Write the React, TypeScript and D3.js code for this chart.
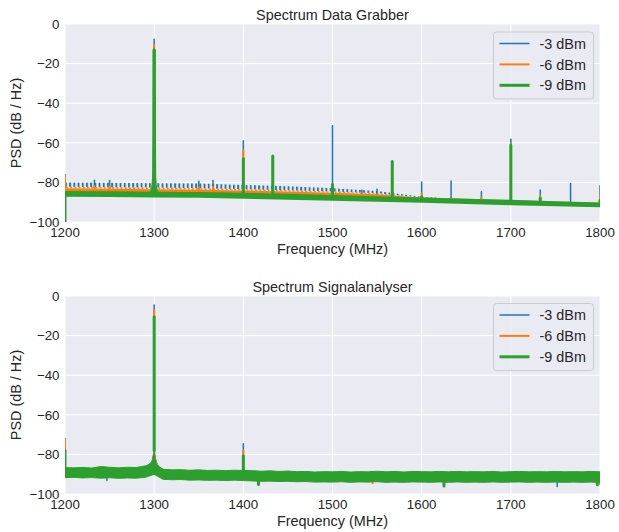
import React from 'react';
import * as d3 from 'd3';

// ---------- series ----------
const SERIES = ['-3 dBm', '-6 dBm', '-9 dBm'];
const COLORS = ['#1f77b4', '#ff7f0e', '#2ca02c'];
const LINE_WIDTHS = [1.5, 2, 3];

const X_TICKS = [1200, 1300, 1400, 1500, 1600, 1700, 1800];
const Y_TICKS = [0, -20, -40, -60, -80, -100];

// ---------- Spectrum Data Grabber (top) ----------
const GRAB_FREQ = [1200, 1250, 1300, 1350, 1400, 1450, 1500, 1550, 1600, 1650, 1700, 1750, 1800];
const GRAB_ORANGE_TOP = [-83.0, -83.2, -83.4, -83.7, -84.1, -84.6, -85.2, -86.0, -87.6, -88.3, -89.0, -89.7, -90.3];
const GRAB_ORANGE_BOTTOM = [-84.6, -84.8, -85.0, -85.3, -85.7, -86.2, -86.8, -87.5, -88.6, -89.3, -90.0, -90.6, -91.3];
const GRAB_GREEN_TOP = [-84.3, -84.5, -84.7, -84.8, -85.2, -85.7, -86.4, -87.0, -87.6, -88.2, -88.8, -89.5, -90.2];
const GRAB_GREEN_BOTTOM = [-87.2, -87.4, -87.6, -87.8, -88.3, -88.8, -89.3, -89.8, -90.3, -90.9, -91.5, -92.0, -92.6];

// periodic spur comb (blue / orange) tops
const GRAB_COMB_FREQ = [1200, 1250, 1300, 1350, 1400, 1450, 1500, 1550, 1600, 1640];
const GRAB_BLUE_COMB = [-80.0, -80.2, -80.4, -80.6, -81.3, -82.0, -82.9, -84.3, -87.3, -88.4];
const GRAB_ORANGE_COMB = [-82.2, -82.4, -82.6, -82.9, -83.4, -84.0, -84.6, -85.5, -87.6, -88.6];

// discrete spurs
const GRAB_SPUR_FREQ = [1200, 1233, 1250, 1300, 1350, 1366, 1400, 1433, 1500, 1533, 1550, 1567, 1600, 1633, 1667, 1700, 1733, 1767, 1800];
const GRAB_SPUR_BASE = [-86, -86, -86, -86, -86.5, -86.5, -87, -87.5, -88, -88.5, -88.5, -88.7, -89, -89.5, -90, -90.3, -90.7, -91, -91.4];
const GRAB_SPUR_BLUE = [-76, -78.9, -79, -7.7, -79.4, -79, -59, -67.5, -51.4, -83.8, -83.5, -70, -79.8, -79.3, -84.7, -58.2, -83.8, -80.5, -81.7];
const GRAB_SPUR_ORANGE = [-77, -82, -81.8, -10.6, -82.5, -82.3, -63.6, -67.5, -82.5, null, null, -70, -85.5, null, -87.5, -60.5, -87, null, -86.9];
const GRAB_SPUR_GREEN = [null, null, null, -13.1, null, null, -68, -66.7, -81, null, null, -69.5, -87.2, null, null, -61.1, -88, null, -89];
const GRAB_GREEN_DIP_FREQ = [1200];
const GRAB_GREEN_DIP = [-100];

// skirt of the main carrier (offset in MHz from 1300)
const GRAB_SKIRT_OFFSET = [-5, -3, -2, -1.2, -0.6, -0.25, 0, 0.25, 0.6, 1.2, 2, 3, 5];
const GRAB_SKIRT_GREEN = [-86, -84.8, -83.5, -81, -77, -55, -13.1, -55, -77, -81, -83.5, -84.8, -86];

// ---------- Spectrum Signalanalyser (bottom) ----------
const SA_FREQ = [
  1200, 1210, 1220, 1230, 1240, 1250, 1260, 1270, 1280, 1290,
  1300, 1310, 1320, 1330, 1340, 1350, 1360, 1370, 1380, 1390,
  1400, 1410, 1420, 1430, 1440, 1450, 1460, 1470, 1480, 1490,
  1500, 1510, 1520, 1530, 1540, 1550, 1560, 1570, 1580, 1590,
  1600, 1610, 1620, 1630, 1640, 1650, 1660, 1670, 1680, 1690,
  1700, 1710, 1720, 1730, 1740, 1750, 1760, 1770, 1780, 1790, 1800,
];
const SA_GREEN_TOP = [
  -86.7, -86.8, -86.6, -86.9, -86.1, -86.5, -86.8, -86.5, -86.6, -85.8,
  -84.5, -87.5, -87.8, -87.7, -88.0, -87.8, -88.1, -88.0, -88.2, -88.0,
  -88.1, -88.2, -88.5, -88.3, -88.6, -88.4, -88.7, -88.6, -88.9, -88.7,
  -88.8, -88.6, -88.9, -88.7, -88.8, -88.5, -88.8, -88.6, -88.9, -88.6,
  -88.7, -88.8, -88.6, -88.8, -88.6, -88.8, -88.7, -88.8, -88.6, -88.9,
  -88.7, -88.6, -88.8, -88.7, -88.8, -88.6, -88.8, -88.7, -88.8, -88.6, -88.8,
];
const SA_GREEN_BOTTOM = [
  -91.7, -91.6, -91.9, -91.7, -92.0, -91.8, -92.1, -91.9, -92.0, -91.6,
  -90.0, -92.6, -92.8, -92.7, -93.0, -92.9, -93.1, -93.0, -93.2, -93.0,
  -93.2, -93.4, -93.6, -93.5, -93.7, -93.6, -93.8, -93.7, -94.0, -93.9,
  -94.0, -93.8, -94.1, -93.9, -94.0, -93.8, -94.1, -94.0, -94.1, -93.9,
  -94.0, -94.1, -93.9, -94.1, -93.9, -94.1, -94.0, -94.1, -93.9, -94.1,
  -94.0, -93.9, -94.1, -94.0, -94.1, -94.0, -94.1, -94.0, -94.1, -94.0, -94.2,
];
const SA_SPUR_FREQ = [1200, 1300, 1400];
const SA_SPUR_BASE = [-89, -78, -90.5];
const SA_SPUR_BLUE = [-72, -4.6, -74.6];
const SA_SPUR_ORANGE = [-72.5, -7.1, -78];
const SA_SPUR_GREEN = [-78, -10.5, -80.7];

const SA_SKIRT_OFFSET = [-14, -10, -6, -3, -1.5, -0.6, 0, 0.6, 1.5, 3, 6, 10, 14];
const SA_SKIRT_BLUE = [-87, -86, -84.8, -83.5, -80, -76.5, -74.6, -76.5, -80.5, -84, -86.5, -87.5, -88];
const SA_SKIRT_ORANGE = [-87, -86.3, -85.3, -84, -81, -77.5, -76, -77.5, -81.5, -84.5, -86.8, -87.7, -88.2];
const SA_SKIRT_GREEN = [-87, -86.5, -85.5, -84.2, -81.5, -79, -78, -79, -82, -85, -87, -88, -88.5];
const SA_SKIRT_FLOOR = -90;

const SA_DIP_BASE = -92;
const SA_BLUE_DIP_FREQ = [1247, 1752];
const SA_BLUE_DIP = [-93.2, -96.2];
const SA_ORANGE_DIP_FREQ = [1545, 1800];
const SA_ORANGE_DIP = [-94.6, -95];
const SA_GREEN_DIP_FREQ = [1417, 1625, 1797];
const SA_GREEN_DIP = [-95.2, -96, -95.3];

// ---------- layout ----------
const W = 619;
const H = 532;
const X0 = 65;
const X1 = 600;
const FONT = "'Liberation Sans', Arial, sans-serif";
const TEXT = '#262626';
const BG = '#EAEAF2';

type Pt = { f: number; hi: number; lo: number };

function bandPts(freq: number[], hi: number[], lo: number[]): Pt[] {
  return freq.map((f, i) => ({ f, hi: hi[i], lo: lo[i] }));
}

function Panel(props: {
  top: number;
  bottom: number;
  title: string;
  id: string;
  children: (x: d3.ScaleLinear<number, number>, y: d3.ScaleLinear<number, number>) => React.ReactNode;
  legendY: number;
}) {
  const { top, bottom, title, id } = props;
  const x = d3.scaleLinear().domain([1200, 1800]).range([X0, X1]);
  const y = d3.scaleLinear().domain([-100, 0]).range([bottom, top]);
  return (
    <g>
      <rect x={X0} y={top} width={X1 - X0} height={bottom - top} fill={BG} />
      <clipPath id={`clip-${id}`}>
        <rect x={X0} y={top} width={X1 - X0} height={bottom - top} />
      </clipPath>
      {X_TICKS.map((t) => (
        <line key={'gx' + t} x1={x(t)} x2={x(t)} y1={top} y2={bottom} stroke="#fff" strokeWidth={1} />
      ))}
      {Y_TICKS.map((t) => (
        <line key={'gy' + t} x1={X0} x2={X1} y1={y(t)} y2={y(t)} stroke="#fff" strokeWidth={1} />
      ))}
      <g clipPath={`url(#clip-${id})`}>{props.children(x, y)}</g>
      {Y_TICKS.map((t) => (
        <text key={'ty' + t} x={59.5} y={y(t)} dy="0.36em" textAnchor="end" fontSize={13.3} fill={TEXT} fontFamily={FONT}>
          {t < 0 ? '\u2212' + Math.abs(t) : String(t)}
        </text>
      ))}
      {X_TICKS.map((t) => (
        <text key={'tx' + t} x={x(t)} y={bottom + 15.3} textAnchor="middle" fontSize={13.3} fill={TEXT} fontFamily={FONT}>
          {t}
        </text>
      ))}
      <text x={(X0 + X1) / 2} y={top - 4.3} textAnchor="middle" fontSize={14.4} fill={TEXT} fontFamily={FONT}>
        {title}
      </text>
      <text x={(X0 + X1) / 2} y={bottom + 32} textAnchor="middle" fontSize={14.4} fill={TEXT} fontFamily={FONT}>
        Frequency (MHz)
      </text>
      <text
        transform={`translate(21,${(top + bottom) / 2}) rotate(-90)`}
        textAnchor="middle"
        fontSize={14.4}
        fill={TEXT}
        fontFamily={FONT}
      >
        PSD (dB / Hz)
      </text>
      <Legend y={props.legendY} />
    </g>
  );
}

function Legend({ y }: { y: number }) {
  const bx = 493.5;
  const bw = 100;
  const bh = 67;
  return (
    <g>
      <rect x={bx} y={y} width={bw} height={bh} rx={3} fill={BG} fillOpacity={0.8} stroke="#cccccc" strokeWidth={1} />
      {SERIES.map((s, i) => {
        const yy = y + 11.5 + i * 20.9;
        return (
          <g key={s}>
            <line x1={bx + 6} x2={bx + 36} y1={yy} y2={yy} stroke={COLORS[i]} strokeWidth={LINE_WIDTHS[i]} />
            <text x={bx + 46} y={yy} dy="0.36em" fontSize={14.4} fill={TEXT} fontFamily={FONT}>
              {s}
            </text>
          </g>
        );
      })}
    </g>
  );
}

function spurLines(
  x: d3.ScaleLinear<number, number>,
  y: d3.ScaleLinear<number, number>,
  freq: number[],
  base: number[] | number,
  peak: (number | null)[],
  color: string,
  lw: number,
  key: string,
) {
  return freq.map((f, i) => {
    const p = peak[i];
    if (p === null || p === undefined) return null;
    const b = typeof base === 'number' ? base : base[i];
    return (
      <line
        key={key + i}
        x1={x(f)}
        x2={x(f)}
        y1={y(b)}
        y2={y(p)}
        stroke={color}
        strokeWidth={lw}
        strokeLinecap="round"
      />
    );
  });
}

function skirtPath(
  x: d3.ScaleLinear<number, number>,
  y: d3.ScaleLinear<number, number>,
  center: number,
  offsets: number[],
  vals: number[],
) {
  const line = d3
    .line<number>()
    .x((_, i) => x(center + offsets[i]))
    .y((v) => y(v));
  return line(vals) || '';
}

function skirtArea(
  x: d3.ScaleLinear<number, number>,
  y: d3.ScaleLinear<number, number>,
  center: number,
  offsets: number[],
  vals: number[],
  floor: number,
) {
  const area = d3
    .area<number>()
    .x((_, i) => x(center + offsets[i]))
    .y0(y(floor))
    .y1((v) => y(v));
  return area(vals) || '';
}

export default function App() {
  const area = (x: d3.ScaleLinear<number, number>, y: d3.ScaleLinear<number, number>) =>
    d3
      .area<Pt>()
      .x((d) => x(d.f))
      .y0((d) => y(d.lo))
      .y1((d) => y(d.hi));

  return (
    <svg width={W} height={H} style={{ position: 'absolute', left: 0, top: 0, background: '#fff' }}>
      <defs>
        <pattern id="stripeBlue" x={X0} y={0} width={4.2} height={20} patternUnits="userSpaceOnUse">
          <rect x={0} y={0} width={1.9} height={20} fill={COLORS[0]} />
        </pattern>
        <pattern id="stripeOrange" x={X0 + 1} y={0} width={4.2} height={20} patternUnits="userSpaceOnUse">
          <rect x={0} y={0} width={2.0} height={20} fill={COLORS[1]} />
        </pattern>
      </defs>
      <Panel top={24} bottom={222} title="Spectrum Data Grabber" id="grab" legendY={32}>
        {(x, y) => {
          const a = area(x, y);
          const blueComb = bandPts(GRAB_COMB_FREQ, GRAB_BLUE_COMB, GRAB_ORANGE_COMB);
          const orangeComb = bandPts(GRAB_COMB_FREQ, GRAB_ORANGE_COMB, GRAB_ORANGE_TOP.slice(0, GRAB_COMB_FREQ.length));
          const orangeBand = bandPts(GRAB_FREQ, GRAB_ORANGE_TOP, GRAB_ORANGE_BOTTOM);
          const greenBand = bandPts(GRAB_FREQ, GRAB_GREEN_TOP, GRAB_GREEN_BOTTOM);
          return (
            <g>
              {/* -3 dBm */}
              <path d={a(blueComb) || ''} fill="url(#stripeBlue)" />
              {spurLines(x, y, GRAB_SPUR_FREQ, GRAB_SPUR_BASE, GRAB_SPUR_BLUE, COLORS[0], LINE_WIDTHS[0], 'gb')}
              {/* -6 dBm */}
              <path d={a(orangeComb) || ''} fill="url(#stripeOrange)" />
              <path d={a(orangeBand) || ''} fill={COLORS[1]} />
              {spurLines(x, y, GRAB_SPUR_FREQ, GRAB_SPUR_BASE, GRAB_SPUR_ORANGE, COLORS[1], LINE_WIDTHS[1], 'go')}
              {/* -9 dBm */}
              <path d={a(greenBand) || ''} fill={COLORS[2]} />
              <path
                d={skirtPath(x, y, 1300, GRAB_SKIRT_OFFSET, GRAB_SKIRT_GREEN)}
                fill="none"
                stroke={COLORS[2]}
                strokeWidth={LINE_WIDTHS[2]}
                strokeLinejoin="round"
              />
              {spurLines(x, y, GRAB_SPUR_FREQ, GRAB_SPUR_BASE, GRAB_SPUR_GREEN, COLORS[2], LINE_WIDTHS[2], 'gg')}
              {spurLines(x, y, GRAB_GREEN_DIP_FREQ, -86, GRAB_GREEN_DIP, COLORS[2], LINE_WIDTHS[2], 'gd')}
            </g>
          );
        }}
      </Panel>
      <Panel top={296} bottom={494} title="Spectrum Signalanalyser" id="sa" legendY={303.5}>
        {(x, y) => {
          const a = area(x, y);
          const greenBand = bandPts(SA_FREQ, SA_GREEN_TOP, SA_GREEN_BOTTOM);
          return (
            <g>
              {/* -3 dBm */}
              <path d={skirtArea(x, y, 1300, SA_SKIRT_OFFSET, SA_SKIRT_BLUE, SA_SKIRT_FLOOR)} fill={COLORS[0]} />
              {spurLines(x, y, SA_SPUR_FREQ, SA_SPUR_BASE, SA_SPUR_BLUE, COLORS[0], LINE_WIDTHS[0], 'sb')}
              {spurLines(x, y, SA_BLUE_DIP_FREQ, SA_DIP_BASE, SA_BLUE_DIP, COLORS[0], LINE_WIDTHS[0], 'sbd')}
              {/* -6 dBm */}
              <path d={skirtArea(x, y, 1300, SA_SKIRT_OFFSET, SA_SKIRT_ORANGE, SA_SKIRT_FLOOR)} fill={COLORS[1]} />
              {spurLines(x, y, SA_SPUR_FREQ, SA_SPUR_BASE, SA_SPUR_ORANGE, COLORS[1], LINE_WIDTHS[1], 'so')}
              {spurLines(x, y, SA_ORANGE_DIP_FREQ, SA_DIP_BASE, SA_ORANGE_DIP, COLORS[1], LINE_WIDTHS[1], 'sod')}
              {/* -9 dBm */}
              <path d={a(greenBand) || ''} fill={COLORS[2]} stroke={COLORS[2]} strokeWidth={1} />
              <path d={skirtArea(x, y, 1300, SA_SKIRT_OFFSET, SA_SKIRT_GREEN, SA_SKIRT_FLOOR)} fill={COLORS[2]} />
              {spurLines(x, y, SA_SPUR_FREQ, SA_SPUR_BASE, SA_SPUR_GREEN, COLORS[2], LINE_WIDTHS[2], 'sg')}
              {spurLines(x, y, SA_GREEN_DIP_FREQ, SA_DIP_BASE, SA_GREEN_DIP, COLORS[2], LINE_WIDTHS[2], 'sgd')}
            </g>
          );
        }}
      </Panel>
    </svg>
  );
}
